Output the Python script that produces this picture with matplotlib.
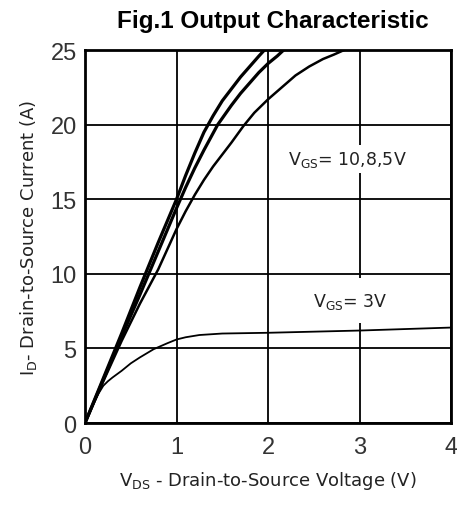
import matplotlib
matplotlib.use("Agg")
import matplotlib.pyplot as plt

# V_DS (V) and I_D (A)
vds_10 = [0, 0.2, 0.4, 0.6, 0.8, 1.0, 1.1, 1.2, 1.3, 1.4, 1.5, 1.6, 1.7, 1.8, 1.9, 1.96]
id_10 = [0, 3.0, 6.0, 9.1, 12.1, 15.0, 16.6, 18.1, 19.5, 20.6, 21.6, 22.4, 23.2, 23.9, 24.6, 25.0]

vds_8 = [0, 0.2, 0.4, 0.6, 0.8, 1.0, 1.1, 1.2, 1.3, 1.45, 1.6, 1.7, 1.8, 1.9, 2.0, 2.1, 2.17]
id_8 = [0, 2.9, 5.8, 8.6, 11.5, 14.4, 15.8, 17.1, 18.3, 20.0, 21.3, 22.1, 22.8, 23.5, 24.1, 24.6, 25.0]

vds_5 = [0, 0.2, 0.4, 0.6, 0.8, 1.0, 1.1, 1.2, 1.3, 1.4, 1.5, 1.6, 1.73, 1.85, 2.0,
         2.15, 2.3, 2.45, 2.6, 2.72, 2.83]
id_5 = [0, 2.8, 5.5, 8.0, 10.3, 13.0, 14.2, 15.3, 16.3, 17.2, 18.0, 18.8, 19.9, 20.8, 21.7,
        22.5, 23.3, 23.9, 24.4, 24.7, 25.0]

vds_3 = [0, 0.05, 0.1, 0.15, 0.2, 0.25, 0.3, 0.4, 0.5, 0.6, 0.75, 0.9, 1.0, 1.1, 1.25, 1.5,
         2.0, 3.0, 4.0]
id_3 = [0, 0.75, 1.4, 2.0, 2.5, 2.8, 3.05, 3.5, 4.0, 4.4, 4.95, 5.35, 5.6, 5.75, 5.9, 6.0,
        6.05, 6.2, 6.4]

x_ticks = [0, 1, 2, 3, 4]
y_ticks = [0, 5, 10, 15, 20, 25]

plt.rcParams['font.family'] = ['DejaVu Sans']

fig = plt.figure(figsize=(4.57, 5.06), dpi=100)
ax = fig.add_axes([0.186, 0.162, 0.801, 0.737])

ax.plot(vds_10, id_10, color='black', lw=2.3, solid_joinstyle='round')
ax.plot(vds_8, id_8, color='black', lw=2.3, solid_joinstyle='round')
ax.plot(vds_5, id_5, color='black', lw=1.8, solid_joinstyle='round')
ax.plot(vds_3, id_3, color='black', lw=1.3, solid_joinstyle='round')

ax.set_xlim(0, 4)
ax.set_ylim(0, 25)
ax.set_xticks(x_ticks)
ax.set_yticks(y_ticks)
ax.tick_params(length=0, labelsize=17, labelcolor='#333333')
ax.tick_params(axis='x', pad=9)
ax.tick_params(axis='y', pad=6)
for lab in ax.get_xticklabels() + ax.get_yticklabels():
    lab.set_family('Liberation Sans')
ax.grid(True, color='black', lw=1.3)
ax.set_axisbelow(True)
for s in ax.spines.values():
    s.set_linewidth(2.0)

ax.text(2.87, 17.7, r'V$_\mathregular{GS}$= 10,8,5V', ha='center', va='center',
        fontsize=12.5, color='#222222', bbox=dict(facecolor='white', edgecolor='none', pad=3))
ax.text(2.9, 8.2, r'V$_\mathregular{GS}$= 3V', ha='center', va='center',
        fontsize=12.5, color='#222222', bbox=dict(facecolor='white', edgecolor='none', pad=9))

ax.set_xlabel(r'V$_\mathregular{DS}$ - Drain-to-Source Voltage (V)', fontsize=13,
              labelpad=8, color='#222222')
ax.set_ylabel(r'I$_\mathregular{D}$- Drain-to-Source Current (A)', fontsize=13,
              labelpad=8, color='#222222')
fig.text(0.597, 0.958, 'Fig.1 Output Characteristic', ha='center', va='center',
         fontsize=17.5, fontweight='bold', family='Liberation Sans')

fig.savefig('out.png', dpi=100, facecolor='white')
